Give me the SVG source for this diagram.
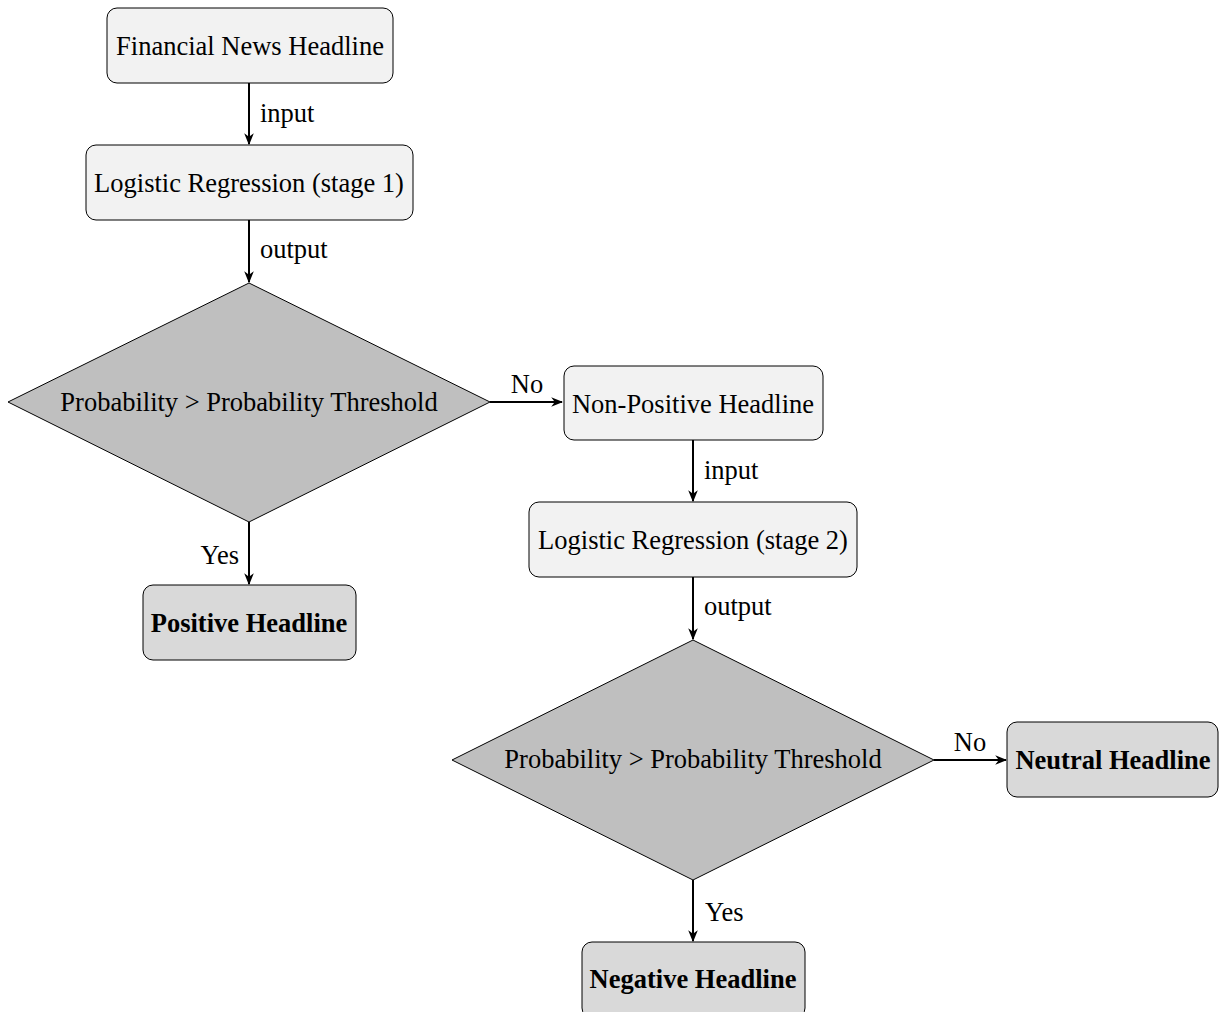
<svg xmlns="http://www.w3.org/2000/svg" width="1220" height="1012" viewBox="0 0 1220 1012">
<defs>
<style>
text{font-family:"Liberation Serif","Times New Roman",serif;font-size:26.5px;fill:#000}
.c{text-anchor:middle;dominant-baseline:central}
.b{font-weight:bold}
.box{fill:#f2f2f2;stroke:#000;stroke-width:1}
.res{fill:#d9d9d9;stroke:#000;stroke-width:1}
.dia{fill:#bfbfbf;stroke:#000;stroke-width:1}
.edge{stroke:#000;stroke-width:2;fill:none;marker-end:url(#ah)}
</style>
<marker id="ah" viewBox="0 0 10 10" refX="9" refY="5" markerWidth="6" markerHeight="6" orient="auto" markerUnits="strokeWidth">
<path d="M0,1 L10,5 L0,9 L3,5 Z" fill="#000"/>
</marker>
</defs>
<rect width="1220" height="1012" fill="#fff"/>
<g id="connectors">
<path class="edge" d="M249,83 V144"/>
<path class="edge" d="M249,220 V282"/>
<path class="edge" d="M490,402 H562"/>
<path class="edge" d="M249,522 V584"/>
<path class="edge" d="M693,440 V501"/>
<path class="edge" d="M693,577 V639"/>
<path class="edge" d="M934,760 H1006"/>
<path class="edge" d="M693,880 V941"/>
<text x="260" y="113" dominant-baseline="central">input</text>
<text x="260" y="249" dominant-baseline="central">output</text>
<text x="527" y="384" class="c">No</text>
<text x="239" y="555" dominant-baseline="central" text-anchor="end">Yes</text>
<text x="704" y="470" dominant-baseline="central">input</text>
<text x="704" y="606" dominant-baseline="central">output</text>
<text x="970" y="742" class="c">No</text>
<text x="705" y="912" dominant-baseline="central">Yes</text>
</g>
<g id="n1"><rect class="box" x="107" y="8" width="286" height="75" rx="10"/><text class="c" x="250" y="46">Financial News Headline</text></g>
<g id="n2"><rect class="box" x="86" y="145" width="327" height="75" rx="10"/><text class="c" x="249" y="183">Logistic Regression (stage 1)</text></g>
<g id="d1"><polygon class="dia" points="249,283 490,402 249,522 8,402"/><text class="c" x="249" y="402">Probability &gt; Probability Threshold</text></g>
<g id="pos"><rect class="res" x="143" y="585" width="213" height="75" rx="10"/><text class="c b" x="249" y="623">Positive Headline</text></g>
<g id="nonpos"><rect class="box" x="564" y="366" width="259" height="74" rx="10"/><text class="c" x="693" y="404">Non-Positive Headline</text></g>
<g id="n3"><rect class="box" x="529" y="502" width="328" height="75" rx="10"/><text class="c" x="693" y="540">Logistic Regression (stage 2)</text></g>
<g id="d2"><polygon class="dia" points="693,640 934,760 693,880 452,760"/><text class="c" x="693" y="759">Probability &gt; Probability Threshold</text></g>
<g id="neu"><rect class="res" x="1007" y="722" width="211" height="75" rx="10"/><text class="c b" x="1113" y="760">Neutral Headline</text></g>
<g id="neg"><rect class="res" x="582" y="942" width="223" height="76" rx="10"/><text class="c b" x="693" y="979">Negative Headline</text></g>
</svg>
